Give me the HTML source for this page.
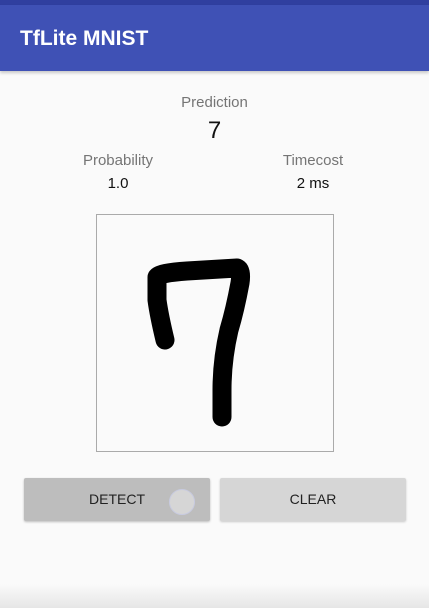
<!DOCTYPE html>
<html><head><meta charset="utf-8"><style>
body{margin:0;width:429px;height:608px;background:#fafafa;font-family:"Liberation Sans",sans-serif;position:relative;overflow:hidden}
.abs{position:absolute}
</style></head><body>
<div class="abs" style="left:0;top:0;width:429px;height:5px;background:#303f9f"></div>
<div class="abs" style="left:0;top:5px;width:429px;height:66px;background:#3f51b5;box-shadow:0 2px 3px rgba(0,0,0,0.2)"></div>
<div class="abs" style="left:20px;top:27px;color:#fff;font-size:21px;font-weight:bold">TfLite MNIST</div>
<div class="abs" style="left:0;width:429px;top:94px;text-align:center;color:#757575;font-size:15px">Prediction</div>
<div class="abs" style="left:0;width:429px;top:117px;text-align:center;color:#111;font-size:24px">7</div>
<div class="abs" style="left:18px;width:200px;top:152px;text-align:center;color:#757575;font-size:15px">Probability</div>
<div class="abs" style="left:18px;width:200px;top:175px;text-align:center;color:#111;font-size:15px">1.0</div>
<div class="abs" style="left:213px;width:200px;top:152px;text-align:center;color:#757575;font-size:15px">Timecost</div>
<div class="abs" style="left:213px;width:200px;top:175px;text-align:center;color:#111;font-size:15px">2 ms</div>
<div class="abs" style="left:96px;top:214px;width:236px;height:236px;border:1px solid #aaa;background:#fafafa">
<svg width="236" height="236"><path d="M68 125 Q62 100 60 85 L60 62 Q62 58 90 56 L140 53 Q145 55 143 68 Q138 95 132 115 Q125 145 125 175 L125 202" fill="none" stroke="#000" stroke-width="19" stroke-linecap="round" stroke-linejoin="round"/></svg>
</div>
<div class="abs" style="left:24px;top:478px;width:186px;height:43px;background:#bdbdbd;border-radius:2px;box-shadow:0 1px 2px rgba(0,0,0,0.25);text-align:center;line-height:43px;font-size:14px;color:#222">DETECT</div>
<div class="abs" style="left:169px;top:489px;width:24px;height:24px;border-radius:50%;background:#d6d6d6;border:1px solid #c8cbe0"></div>
<div class="abs" style="left:220px;top:478px;width:186px;height:43px;background:#d6d6d6;border-radius:2px;box-shadow:0 1px 2px rgba(0,0,0,0.2);text-align:center;line-height:43px;font-size:14px;color:#222">CLEAR</div>
<div class="abs" style="left:0;top:584px;width:429px;height:24px;background:linear-gradient(#fafafa,#e6e6e6)"></div>
</body></html>
